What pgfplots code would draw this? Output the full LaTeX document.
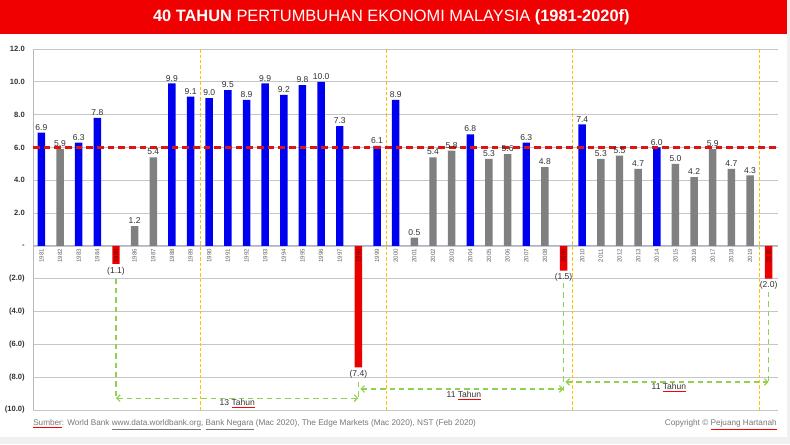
\documentclass[border=0pt]{standalone}
\usepackage{pgfplots}
\pgfplotsset{compat=1.18}
\usepackage{fontspec}
\setmainfont{Liberation Sans}
\usetikzlibrary{arrows.meta}
\definecolor{tred}{RGB}{240,0,0}
\definecolor{bblue}{RGB}{0,0,240}
\definecolor{bgray}{RGB}{128,128,128}
\definecolor{bred}{RGB}{235,0,0}
\definecolor{avgred}{RGB}{220,20,20}
\definecolor{gold}{RGB}{255,192,0}
\definecolor{lgreen}{RGB}{146,208,80}
\definecolor{txt}{RGB}{50,50,50}
\definecolor{foot}{RGB}{120,120,120}
\definecolor{zline}{RGB}{170,180,215}
\definecolor{darkr}{RGB}{110,0,0}

\pgfplotstableread{
x y l
1981 6.9 6.9
1983 6.3 6.3
1984 7.8 7.8
1988 9.9 9.9
1989 9.1 9.1
1990 9.0 9.0
1991 9.5 9.5
1992 8.9 8.9
1993 9.9 9.9
1994 9.2 9.2
1995 9.8 9.8
1996 10.0 10.0
1997 7.3 7.3
1999 6.1 6.1
2000 8.9 8.9
2004 6.8 6.8
2007 6.3 6.3
2010 7.4 7.4
2014 6.0 6.0
}\blue
\pgfplotstableread{
x y l
1982 5.9 5.9
1986 1.2 1.2
1987 5.4 5.4
2001 0.5 0.5
2002 5.4 5.4
2003 5.8 5.8
2005 5.3 5.3
2006 5.6 5.6
2008 4.8 4.8
2011 5.3 5.3
2012 5.5 5.5
2013 4.7 4.7
2015 5.0 5.0
2016 4.2 4.2
2017 5.9 5.9
2018 4.7 4.7
2019 4.3 4.3
}\grey
\pgfplotstableread{
x y l
1985 -1.1 (1.1)
1998 -7.4 (7.4)
2009 -1.5 (1.5)
2020 -2.0 (2.0)
}\reds

\newcommand{\ul}[2]{{\color{#1}\underline{\color{foot}#2}}}

\begin{document}
\begin{tikzpicture}
\useasboundingbox (0,0) rectangle (592.5pt,-333pt);
\fill[white] (0,0) rectangle (592.5pt,-333pt);
\fill[gray!12] (0,-328pt) rectangle (592.5pt,-333pt);
\fill[gray!12] (590.25pt,0) rectangle (592.5pt,-333pt);
\fill[tred] (0,0) rectangle (590.25pt,-25.5pt);
\node[text=white, font=\fontsize{12.3}{14}\selectfont, inner sep=0pt] at (293.5pt,-13.1pt)
  {\textbf{40 TAHUN} PERTUMBUHAN EKONOMI MALAYSIA \textbf{(1981-2020f)}};

\begin{axis}[
  at={(24.75pt,-307.5pt)}, anchor=south west,
  scale only axis, width=558.75pt, height=270.75pt,
  xmin=1980.55, xmax=2020.5, ymin=-10, ymax=12,
  clip=false,
  axis x line=none,
  axis y line*=left,
  y axis line style={-, draw=gray!55, line width=0.6pt},
  xtick=\empty,
  ytick={-10,-8,...,12},
  yticklabels={(10.0),(8.0),(6.0),(4.0),(2.0),{-\hspace{4pt}},2.0,4.0,6.0,8.0,10.0,12.0},
  yticklabel style={font=\fontsize{5.7}{6}\selectfont\bfseries, text=txt, inner sep=0pt, xshift=-6pt, anchor=east},
  major tick length=0pt,
  ymajorgrids,
  grid style={draw=gray!45, line width=0.6pt},
]
% zero line
\addplot[zline, line width=0.8pt, forget plot] coordinates {(1980.55,0) (2020.5,0)};
% period separators
\addplot[gold, line width=0.6pt, dash pattern=on 2.5pt off 1.5pt] coordinates {(1989.5,-10) (1989.5,12)};
\addplot[gold, line width=0.6pt, dash pattern=on 2.5pt off 1.5pt] coordinates {(1999.5,-10) (1999.5,12)};
\addplot[gold, line width=0.6pt, dash pattern=on 2.5pt off 1.5pt] coordinates {(2009.5,-10) (2009.5,12)};
\addplot[gold, line width=0.6pt, dash pattern=on 2.5pt off 1.5pt] coordinates {(2019.5,-10) (2019.5,12)};

\addplot[ybar, bar width=5.6pt, bar shift=0pt, fill=bblue, draw=none,
  point meta=explicit symbolic, nodes near coords={\pgfplotspointmeta},
  every node near coord/.append style={font=\fontsize{6.4}{7}\selectfont, text=txt, anchor=south, inner sep=1.5pt}]
  table[x=x,y=y,meta=l] {\blue};
\addplot[ybar, bar width=5.6pt, bar shift=0pt, fill=bgray, draw=none,
  point meta=explicit symbolic, nodes near coords={\pgfplotspointmeta},
  every node near coord/.append style={font=\fontsize{6.4}{7}\selectfont, text=txt, anchor=south, inner sep=1.5pt}]
  table[x=x,y=y,meta=l] {\grey};
\addplot[ybar, bar width=5.6pt, bar shift=0pt, fill=bred, draw=none,
  point meta=explicit symbolic, nodes near coords={\pgfplotspointmeta},
  every node near coord/.append style={font=\fontsize{6.4}{7}\selectfont, text=txt, anchor=north, inner sep=2pt}]
  table[x=x,y=y,meta=l] {\reds};

% average line
\addplot[avgred, line width=1.8pt, dash pattern=on 5pt off 3pt] coordinates {(1980.55,6) (2020.5,6)};

% year labels
\pgfplotsinvokeforeach{1981,...,1984}{\node[rotate=90, anchor=east, inner xsep=2pt, inner ysep=0pt, font=\fontsize{4.6}{5}\selectfont, text=gray!80!black] at (axis cs:#1,0) {#1};}
\pgfplotsinvokeforeach{1986,...,1997}{\node[rotate=90, anchor=east, inner xsep=2pt, inner ysep=0pt, font=\fontsize{4.6}{5}\selectfont, text=gray!80!black] at (axis cs:#1,0) {#1};}
\pgfplotsinvokeforeach{1999,...,2008}{\node[rotate=90, anchor=east, inner xsep=2pt, inner ysep=0pt, font=\fontsize{4.6}{5}\selectfont, text=gray!80!black] at (axis cs:#1,0) {#1};}
\pgfplotsinvokeforeach{2010,...,2019}{\node[rotate=90, anchor=east, inner xsep=2pt, inner ysep=0pt, font=\fontsize{4.6}{5}\selectfont, text=gray!80!black] at (axis cs:#1,0) {#1};}
\pgfplotsinvokeforeach{1985,1998,2009,2020}{\node[rotate=90, anchor=east, inner xsep=2pt, inner ysep=0pt, font=\fontsize{4.6}{5}\selectfont, text=darkr] at (axis cs:#1,0) {#1};}

% green span arrows
\begin{scope}[lgreen, line width=0.9pt, dash pattern=on 4pt off 3pt]
\draw (axis cs:1985,-2.0) -- (axis cs:1985,-9.28);
\draw[{Straight Barb[length=2.5pt,width=5pt]}-{Straight Barb[length=2.5pt,width=5pt]}] (axis cs:1985,-9.28) -- (axis cs:1998,-9.28);
\draw (axis cs:1998,-8.3) -- (axis cs:1998,-9.28);
\draw[{Straight Barb[length=2.5pt,width=5pt]}-{Straight Barb[length=2.5pt,width=5pt]}] (axis cs:1998.1,-8.72) -- (axis cs:2009,-8.72);
\draw (axis cs:2009,-2.25) -- (axis cs:2009,-8.9);
\draw[{Straight Barb[length=2.5pt,width=5pt]}-{Straight Barb[length=2.5pt,width=5pt]}] (axis cs:2009.1,-8.29) -- (axis cs:2020,-8.29);
\draw (axis cs:2020,-2.8) -- (axis cs:2020,-8.29);
\end{scope}
\node[font=\fontsize{6.4}{7}\selectfont, text=txt] at (axis cs:1991.5,-9.63) {13 {\color{red}\underline{\color{txt}Tahun}}};
\node[font=\fontsize{6.4}{7}\selectfont, text=txt] at (axis cs:2003.66,-9.12) {11 {\color{red}\underline{\color{txt}Tahun}}};
\node[font=\fontsize{6.4}{7}\selectfont, text=txt] at (axis cs:2014.65,-8.63) {11 {\color{red}\underline{\color{txt}Tahun}}};
\end{axis}

\node[anchor=west, font=\fontsize{6.15}{7}\selectfont, text=foot, inner sep=0pt] at (24.75pt,-318.75pt)
  {\ul{red}{Sumber}: World Bank \ul{foot}{www.data.worldbank.org}, \ul{foot}{Bank Negara} (Mac 2020), The Edge Markets (Mac 2020), NST (Feb 2020)};
\node[anchor=east, font=\fontsize{6.15}{7}\selectfont, text=foot, inner sep=0pt] at (582.75pt,-318.75pt)
  {Copyright \textcopyright{} \ul{red}{Pejuang Hartanah}};
\end{tikzpicture}
\end{document}
